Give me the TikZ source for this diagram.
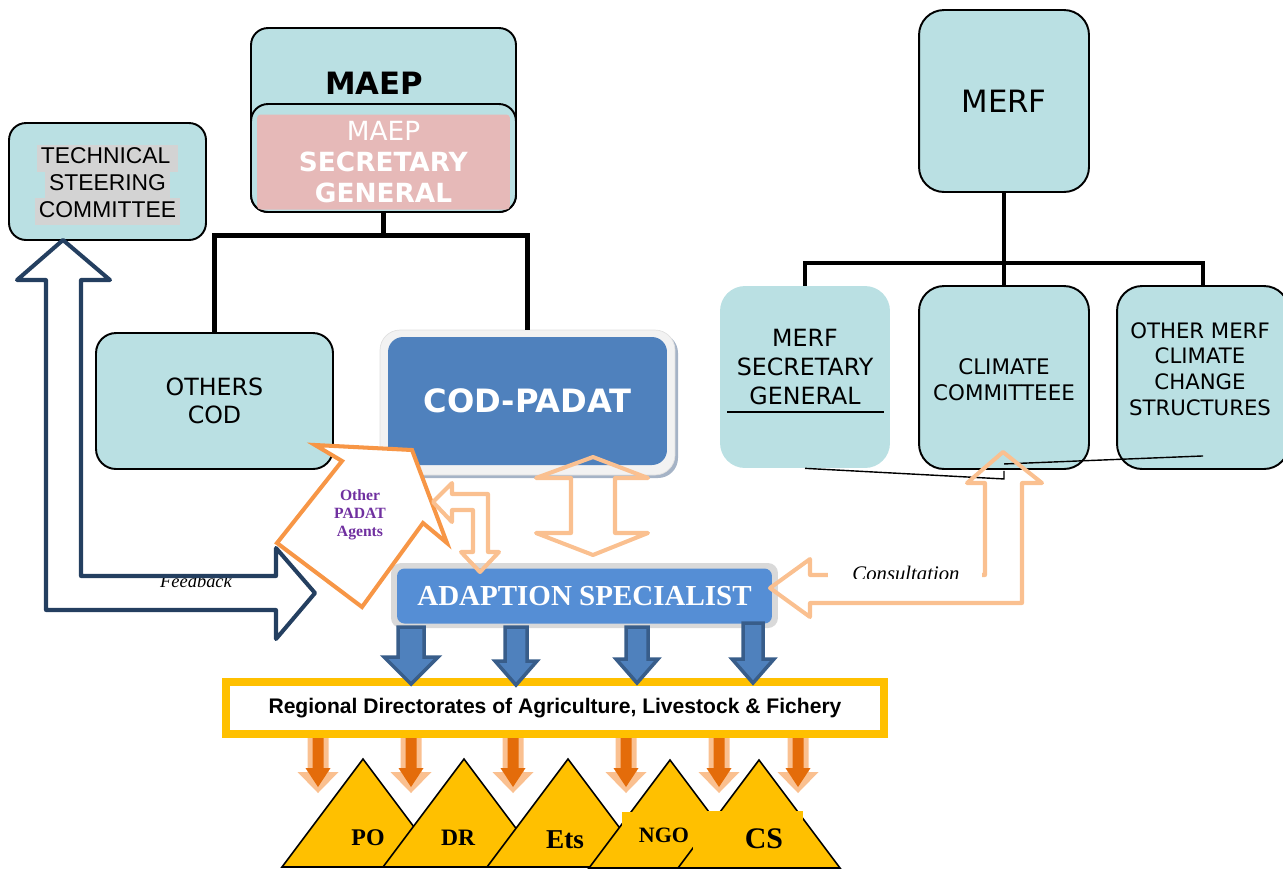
\documentclass[tikz,border=0pt]{standalone}
\usepackage{fontspec}
\setmainfont{Liberation Serif}
\setsansfont{DejaVu Sans}
\newfontfamily\arialfont{Liberation Sans}
\usetikzlibrary{calc}
\definecolor{boxblue}{HTML}{BAE0E3}
\definecolor{pinkfill}{HTML}{E6B9B8}
\definecolor{codblue}{HTML}{4F81BD}
\definecolor{adblue}{HTML}{558ED5}
\definecolor{navy}{HTML}{243F60}
\definecolor{arrowedge}{HTML}{385D8A}
\definecolor{peach}{HTML}{FAC090}
\definecolor{agentorange}{HTML}{F79646}
\definecolor{darkorange}{HTML}{E46C0A}
\definecolor{triyellow}{HTML}{FFC000}
\definecolor{agentpurple}{HTML}{7030A0}
\definecolor{hlgray}{HTML}{D3D3D3}
\definecolor{framegray}{HTML}{F2F2F2}
\definecolor{shadowgray}{HTML}{A5B3C6}
\def\blockdown[#1](#2,#3,#4)(#5,#6,#7){\path[#1] (#2-#5,#3) -- (#2-#5,#7) -- (#2-#6,#7) -- (#2,#4) -- (#2+#6,#7) -- (#2+#5,#7) -- (#2+#5,#3) -- cycle;}
\def\pyramid(#1,#2){\draw[pyramid] (#1,#2) -- (#1+81,#2+108) -- (#1-81,#2+108) -- cycle;}
\tikzset{
  box/.style={draw=black, line width=1.1pt, fill=boxblue, rounded corners=0.34cm, inner sep=0pt},
  treeline/.style={line width=2.8pt},
  thinline/.style={line width=0.8pt},
  peacharrow/.style={draw=peach, line width=2.3pt, line join=round},
  navyarrow/.style={draw=navy, line width=2.3pt, line join=round},
  agentshape/.style={draw=agentorange, fill=white, line width=2.3pt, line join=miter},
  bluedown/.style={fill=codblue, draw=arrowedge, line width=2pt},
  peachglow/.style={fill=peach},
  orangedown/.style={fill=darkorange},
  pyramid/.style={fill=triyellow, draw=black, line width=0.9pt},
  trilabel/.style={inner sep=0pt},
}

\begin{document}
\begin{tikzpicture}[x=0.02cm,y=-0.02cm]
		\useasboundingbox (0,0) rectangle (1283,870);
		
		% left part: MAEP
		\node[box, minimum width=3.94cm, minimum height=2.34cm] (tsc) at (107.5,181.5) {};
		\node[align=center, inner sep=0pt,
			font={\arialfont\fontsize{13}{15.3}\selectfont\setlength{\fboxsep}{0pt}}] (tsctext) at (107.5,185)
			{\colorbox{hlgray}{\strut\,TECHNICAL\,\,}\\\colorbox{hlgray}{\strut\,STEERING\,}\\\colorbox{hlgray}{\strut\,COMMITTEE\,}};
		
		\node[box, minimum width=5.3cm, minimum height=3.68cm] (maep) at (383.5,120) {};
		\node[font=\sffamily\bfseries\fontsize{17.5}{21}\selectfont] (maeptitle) at (374,83) {MAEP};
		\node[box, minimum width=5.3cm, minimum height=2.16cm] (maepsgbox) at (383.5,158) {};
		\node[fill=pinkfill, rounded corners=2pt, minimum width=5.06cm, minimum height=1.9cm, inner sep=0pt,
			text=white, align=center, font=\sffamily\fontsize{15}{17.8}\selectfont] (maepsg) at (383.5,162)
			{MAEP\\\textbf{SECRETARY}\\\textbf{GENERAL}};
		
		\node[box, rounded corners=0.4cm, minimum width=4.74cm, minimum height=2.72cm, align=center,
			font=\sffamily\fontsize{13.5}{16}\selectfont] (othcod) at (214.5,401) {OTHERS\\COD};
		
		\fill[shadowgray, rounded corners=0.4cm] (383,333) rectangle (678,478);
		\node[draw=black!12, fill=framegray, rounded corners=0.4cm, minimum width=5.9cm, minimum height=2.9cm] (codframe) at (527.5,402.5) {};
		\node[fill=codblue, rounded corners=0.3cm, minimum width=5.58cm, minimum height=2.56cm, text=white,
			font=\sffamily\bfseries\fontsize{18.3}{22}\selectfont] (codpadat) at (527.5,401) {COD-PADAT};
		
		\draw[treeline] (maep.south) -- ++(0,23) coordinate (maepfork) -| (othcod.north);
		\draw[treeline] (maepfork) -| (codframe.north);
		
		% right part: MERF
		\node[box, rounded corners=0.5cm, minimum width=3.4cm, minimum height=3.64cm,
			font=\sffamily\fontsize{17.5}{21}\selectfont] (merf) at (1004,101) {MERF};
		\node[fill=boxblue, rounded corners=0.5cm, minimum width=3.4cm, minimum height=3.64cm] (merfsg) at (805,377) {};
		\node[box, rounded corners=0.5cm, minimum width=3.4cm, minimum height=3.66cm] (climcom) at (1004,377.5) {};
		\node[box, rounded corners=0.5cm, minimum width=3.44cm, minimum height=3.66cm] (othmerf) at (1203,377.5) {};
		\node[align=center, font=\sffamily\fontsize{13.5}{16.4}\selectfont] (merfsgtext) at (805,367) {MERF\\SECRETARY\\GENERAL};
		\node[align=center, font=\sffamily\fontsize{12.2}{14.7}\selectfont] (climcomtext) at (1004,380) {CLIMATE\\COMMITTEEE};
		\node[align=center, font=\sffamily\fontsize{12.1}{14.7}\selectfont] (othmerftext) at (1200,369) {OTHER MERF\\CLIMATE\\CHANGE\\STRUCTURES};
		\draw[line width=1.1pt] (727,412) -- (884,412);
		
		\draw[treeline] (merf.south) -- ++(0,70) coordinate (merffork) -| (merfsg.north);
		\draw[treeline] (merffork) -- (climcom.north);
		\draw[treeline] (merffork) -| (othmerf.north);
		\draw[thinline] (merfsg.south) -- ([yshift=-0.18cm]climcom.south) -- ([yshift=-0.02cm]climcom.south);
		\draw[thinline] ([yshift=0.12cm]climcom.south) -- ([yshift=0.28cm]othmerf.south);
		
		% specialist and directorates
		\node[fill=black!15, rounded corners=0.2cm, minimum width=7.74cm, minimum height=1.3cm] (adframe) at (584.5,595.5) {};
		\node[fill=adblue, rounded corners=0.15cm, minimum width=7.5cm, minimum height=1.1cm, text=white,
			font=\bfseries\fontsize{16.5}{20}\selectfont] (adspec) at (584.5,596) {ADAPTION SPECIALIST};
		
		\node[draw=triyellow, line width=4.5pt, fill=white, minimum width=13.16cm, minimum height=1.04cm,
			font=\arialfont\bfseries\fontsize{12}{14}\selectfont] (regdir) at (555,708)
			{Regional Directorates of Agriculture, Livestock \& Fichery};
		
		% feedback
		\draw[navyarrow] (63,240) -- (110,280) -- (81,280) -- (81,576) -- (276,576) -- (276,548) -- (315,593)
			-- (276,639) -- (276,610) -- (46,610) -- (46,280) -- (17,280) -- cycle;
		\begin{scope}
			\clip (150,578) rectangle (245,600);
			\node[anchor=base, font=\itshape\fontsize{10.5}{12}\selectfont] (feedback) at (196,587) {Feedback};
		\end{scope}
		
		% other agents
		\draw[agentshape] (315,445) -- (412,450) -- (447,543) -- (423,523) -- (362,607) -- (277,543) -- (342,461) -- cycle;
		\node[align=center, text=agentpurple, font=\bfseries\fontsize{8.9}{10.2}\selectfont] (agents) at (360,515) {Other\\PADAT\\Agents};
		
		\draw[peacharrow] (433,502) -- (452,483) -- (452,494) -- (488,494) -- (488,552) -- (499,552) -- (480,572)
			-- (461,552) -- (473,552) -- (473,510) -- (452,510) -- (452,522) -- cycle;
		\draw[peacharrow] (593,457) -- (648,478) -- (615,478) -- (615,533) -- (648,533) -- (593,555) -- (536,533)
			-- (571,533) -- (571,478) -- (536,478) -- cycle;
		
		% consultation
		\draw[peacharrow] (770,588) -- (810,559) -- (810,575) -- (985,575) -- (985,483) -- (967,483) -- (1003,452)
			-- (1042,483) -- (1022,483) -- (1022,603) -- (810,603) -- (810,617) -- cycle;
		\begin{scope}
			\clip (828,555) rectangle (982,578);
			\fill[white] (828,555) rectangle (982,578);
			\node[anchor=base, font=\itshape\fontsize{11.8}{14}\selectfont] (consult) at (906,580) {Consultation};
		\end{scope}
		
		% down arrows
		\blockdown[bluedown](411,627,684)(13,27,657)
		\blockdown[bluedown](516,627,685)(11,21,661)
		\blockdown[bluedown](637,627,683)(11,21,659)
		\blockdown[bluedown](753,623,683)(10,21,659)
		
		\blockdown[peachglow](318,738,793)(10.5,20.5,772)
		\blockdown[orangedown](318,738,787)(5.5,12.5,768)
		\blockdown[peachglow](411,738,793)(10.5,20.5,772)
		\blockdown[orangedown](411,738,787)(5.5,12.5,768)
		\blockdown[peachglow](513,738,793)(10.5,20.5,772)
		\blockdown[orangedown](513,738,787)(5.5,12.5,768)
		\blockdown[peachglow](626,738,793)(10.5,20.5,772)
		\blockdown[orangedown](626,738,787)(5.5,12.5,768)
		\blockdown[peachglow](719,738,793)(10.5,20.5,772)
		\blockdown[orangedown](719,738,787)(5.5,12.5,768)
		\blockdown[peachglow](798,738,793)(10.5,20.5,772)
		\blockdown[orangedown](798,738,787)(5.5,12.5,768)
		
		% actors
		\pyramid(363,759)
		\node[trilabel, font=\bfseries\fontsize{13.6}{16}\selectfont] (po) at (368,838) {PO};
		\pyramid(464,759)
		\node[trilabel, font=\bfseries\fontsize{13.4}{16}\selectfont] (dr) at (458,838) {DR};
		\pyramid(568,759)
		\node[trilabel, font=\bfseries\fontsize{15.5}{18}\selectfont] (ets) at (565,840) {Ets};
		\pyramid(670,760)
		\fill[triyellow] (622,812) rectangle (713,860);
		\node[trilabel, font=\bfseries\fontsize{12.5}{15}\selectfont] (ngo) at (664,835) {NGO};
		\pyramid(759,760)
		\fill[triyellow] (693,811) rectangle (803,862);
		\node[trilabel, font=\bfseries\fontsize{17}{20}\selectfont] (cs) at (764,839) {CS};
		
\end{tikzpicture}
\end{document}
